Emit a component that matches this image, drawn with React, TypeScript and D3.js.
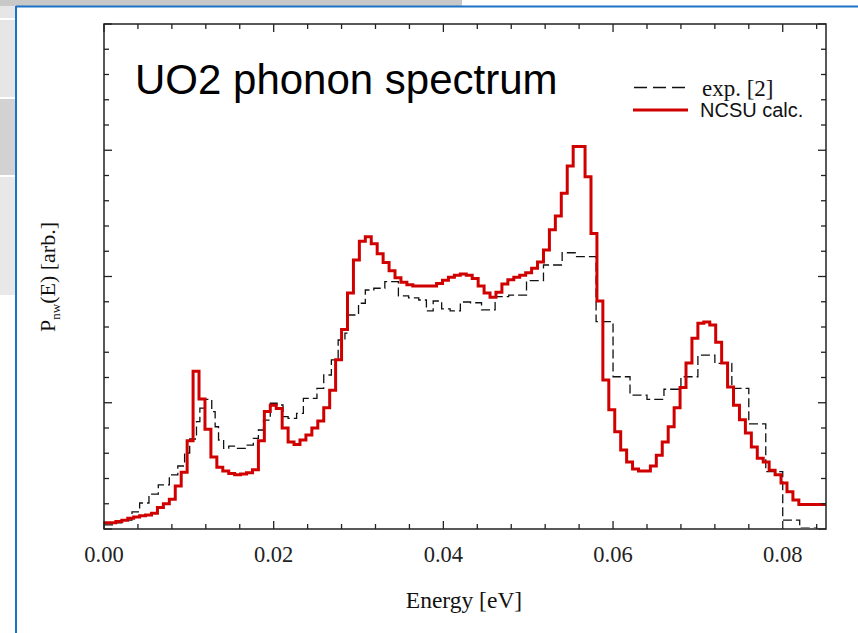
import React, { useEffect, useRef } from "react";
import * as d3 from "d3";

// x axis labels (eV)
const xTicks = [0, 0.02, 0.04, 0.06, 0.08];

// NCSU calculation: histogram with constant bin width, starting at 0 eV
const calcBinWidth = 0.0007;
const calcValues = [
  0.05, 0.05, 0.06, 0.07, 0.085, 0.095, 0.105, 0.11, 0.125, 0.17,
  0.2, 0.235, 0.34, 0.45, 0.7, 1.25, 1.03, 0.79, 0.57, 0.49,
  0.46, 0.44, 0.43, 0.435, 0.445, 0.47, 0.7, 0.93, 0.98, 0.955,
  0.8, 0.69, 0.67, 0.705, 0.745, 0.8, 0.855, 0.96, 1.1, 1.34,
  1.58, 1.87, 2.13, 2.28, 2.315, 2.26, 2.18, 2.11, 2.045, 1.99,
  1.955, 1.935, 1.925, 1.925, 1.925, 1.925, 1.945, 1.97, 1.995, 2.01,
  2.02, 2.01, 1.985, 1.925, 1.87, 1.835, 1.875, 1.94, 1.975, 1.995,
  2.01, 2.03, 2.065, 2.115, 2.21, 2.37, 2.48, 2.66, 2.875, 3.03,
  3.03, 2.79, 2.34, 1.805, 1.18, 0.945, 0.77, 0.625, 0.53, 0.475,
  0.46, 0.46, 0.5, 0.585, 0.69, 0.81, 0.96, 1.12, 1.315, 1.51,
  1.63, 1.64, 1.615, 1.48, 1.315, 1.125, 0.98, 0.865, 0.76, 0.65,
  0.56, 0.53, 0.465, 0.43, 0.365, 0.295, 0.23, 0.195, 0.195, 0.195,
  0.195, 0.195,
];

// experiment [2]: step edges (eV) and heights
const expEdges = [
  0, 0.0012, 0.0021, 0.0033, 0.0042, 0.0053, 0.0064, 0.0077, 0.0087, 0.0095,
  0.0101, 0.0109, 0.0113, 0.0119, 0.0127, 0.0131, 0.0135, 0.0141, 0.0147, 0.0156,
  0.0168, 0.0176, 0.0182, 0.0188, 0.0196, 0.0204, 0.0211, 0.0217, 0.0227, 0.0235,
  0.0251, 0.0259, 0.0268, 0.0276, 0.0284, 0.0288, 0.03, 0.0308, 0.0318, 0.0331,
  0.0347, 0.0359, 0.0371, 0.038, 0.0388, 0.0398, 0.0408, 0.042, 0.0432, 0.0445,
  0.0461, 0.0477, 0.0498, 0.0518, 0.054, 0.0557, 0.058, 0.06, 0.062, 0.064,
  0.066, 0.068, 0.07, 0.072, 0.074, 0.076, 0.078, 0.08, 0.082, 0.084,
];
const expValues = [
  0.032, 0.048, 0.071, 0.135, 0.206, 0.277, 0.349, 0.428, 0.499, 0.602,
  0.713, 0.85, 0.958, 1.027, 0.929, 0.81, 0.705, 0.639, 0.657, 0.639,
  0.665, 0.718, 0.784, 0.863, 0.996, 0.982, 0.89, 0.877, 0.916, 1.035,
  1.114, 1.22, 1.339, 1.497, 1.552, 1.695, 1.788, 1.893, 1.907, 1.959,
  1.846, 1.83, 1.814, 1.727, 1.806, 1.743, 1.727, 1.798, 1.792, 1.735,
  1.84, 1.853, 1.967, 2.091, 2.188, 2.157, 1.642, 1.206, 1.061, 1.027,
  1.107, 1.206, 1.378, 1.312, 1.114, 0.832, 0.454, 0.071, 0.006, 0,
];

const legendLabels = ["exp. [2]", "NCSU calc."];

function PhononChart() {
  const ref = useRef<SVGSVGElement>(null);

  useEffect(() => {
    const W = 858;
    const H = 633;
    const left = 104, right = 826, top = 24, bottom = 529;
    const red = "#d10000";

    const svg = d3.select(ref.current);
    svg.selectAll("*").remove();

    // slide chrome around the pasted figure
    svg.append("rect").attr("width", W).attr("height", H).attr("fill", "#fff");
    svg.append("rect").attr("x", 0).attr("y", 0).attr("width", 462).attr("height", 6).attr("fill", "#c8c8c8");
    const panels = [
      [6, 18, "#e6e6e6"],
      [20, 97, "#e6e6e6"],
      [99, 175, "#d2d2d2"],
      [177, 295, "#e8e8e8"],
    ];
    panels.forEach(([y0, y1, c]) => {
      svg.append("rect").attr("x", 0).attr("y", y0).attr("width", 15)
        .attr("height", (y1 as number) - (y0 as number)).attr("fill", c as string);
    });
    svg.append("line").attr("x1", 16).attr("x2", 16).attr("y1", 6).attr("y2", H)
      .attr("stroke", "#1a73c6").attr("stroke-width", 2);
    svg.append("line").attr("x1", 16).attr("x2", W).attr("y1", 6.5).attr("y2", 6.5)
      .attr("stroke", "#1a73c6").attr("stroke-width", 2);

    const x = d3.scaleLinear().domain([0, 0.0851]).range([left, right]);
    const y = d3.scaleLinear().domain([0, 4]).range([bottom, top]);

    // clip for data lines
    svg.append("clipPath").attr("id", "plotclip")
      .append("rect").attr("x", left).attr("y", top - 2)
      .attr("width", right - left).attr("height", bottom - top + 1);

    const stepLine = d3.line<[number, number]>()
      .x((d) => x(d[0]))
      .y((d) => y(d[1]))
      .curve(d3.curveStepAfter);

    const expPts: [number, number][] = expEdges.map((e, i) => [e, expValues[i]]);
    expPts.push([0.0851, expValues[expValues.length - 1]]);

    const calcPts: [number, number][] = calcValues.map((v, i) => [i * calcBinWidth, v]);
    calcPts.push([calcValues.length * calcBinWidth, calcValues[calcValues.length - 1]]);

    const lines = svg.append("g").attr("clip-path", "url(#plotclip)");
    lines.append("path").attr("d", stepLine(expPts))
      .attr("fill", "none").attr("stroke", "#111").attr("stroke-width", 1.3)
      .attr("stroke-dasharray", "9,4");
    lines.append("path").attr("d", stepLine(calcPts))
      .attr("fill", "none").attr("stroke", red).attr("stroke-width", 3)
      .attr("stroke-linejoin", "miter");

    // frame
    svg.append("rect").attr("x", left).attr("y", top)
      .attr("width", right - left).attr("height", bottom - top)
      .attr("fill", "none").attr("stroke", "#222").attr("stroke-width", 1.5);

    const tickG = svg.append("g").attr("stroke", "#222").attr("stroke-width", 1.3);
    const xMinor = d3.range(0, 0.0851, 0.004);
    xMinor.forEach((t, i) => {
      const len = i % 5 === 0 ? 8 : 5;
      tickG.append("line").attr("x1", x(t)).attr("x2", x(t)).attr("y1", bottom).attr("y2", bottom - len);
      tickG.append("line").attr("x1", x(t)).attr("x2", x(t)).attr("y1", top).attr("y2", top + len);
    });
    const yMinor = d3.range(0, 4.001, 0.2);
    yMinor.forEach((t, i) => {
      const len = i % 5 === 0 ? 8 : 5;
      tickG.append("line").attr("x1", left).attr("x2", left + len).attr("y1", y(t)).attr("y2", y(t));
      tickG.append("line").attr("x1", right).attr("x2", right - len).attr("y1", y(t)).attr("y2", y(t));
    });

    const serif = "'Liberation Serif', 'Times New Roman', serif";
    const sans = "'Liberation Sans', Arial, sans-serif";

    svg.append("g").selectAll("text").data(xTicks).enter().append("text")
      .attr("x", (d) => x(d)).attr("y", 562)
      .attr("text-anchor", "middle")
      .attr("font-family", serif).attr("font-size", 22.5).attr("fill", "#222")
      .text((d) => d3.format(".2f")(d));

    svg.append("text").attr("x", 464).attr("y", 608)
      .attr("text-anchor", "middle").attr("font-family", serif).attr("font-size", 23.5)
      .attr("fill", "#111").text("Energy [eV]");

    const yl = svg.append("text")
      .attr("transform", "translate(55,277) rotate(-90)")
      .attr("text-anchor", "middle").attr("font-family", serif).attr("font-size", 22)
      .attr("fill", "#111");
    yl.append("tspan").text("P");
    yl.append("tspan").attr("dy", 5).attr("font-size", 13).text("nw");
    yl.append("tspan").attr("dy", -5).text("(E) [arb.]");

    // title
    svg.append("text").attr("x", 135).attr("y", 94)
      .attr("font-family", sans).attr("font-size", 42).attr("fill", "#000")
      .text("UO2 phonon spectrum");

    // legend
    svg.append("line").attr("x1", 634).attr("x2", 688).attr("y1", 87.5).attr("y2", 87.5)
      .attr("stroke", "#111").attr("stroke-width", 1.3).attr("stroke-dasharray", "13,6");
    svg.append("line").attr("x1", 633).attr("x2", 688).attr("y1", 110).attr("y2", 110)
      .attr("stroke", red).attr("stroke-width", 3);
    svg.append("text").attr("x", 702).attr("y", 96)
      .attr("font-family", serif).attr("font-size", 23).attr("fill", "#111")
      .text(legendLabels[0]);
    svg.append("text").attr("x", 700).attr("y", 117)
      .attr("font-family", sans).attr("font-size", 20).attr("fill", "#111")
      .text(legendLabels[1]);
  }, []);

  return (
    <svg
      ref={ref}
      width={858}
      height={633}
      style={{ position: "absolute", left: 0, top: 0 }}
    />
  );
}

export default function App() {
  return <PhononChart />;
}
